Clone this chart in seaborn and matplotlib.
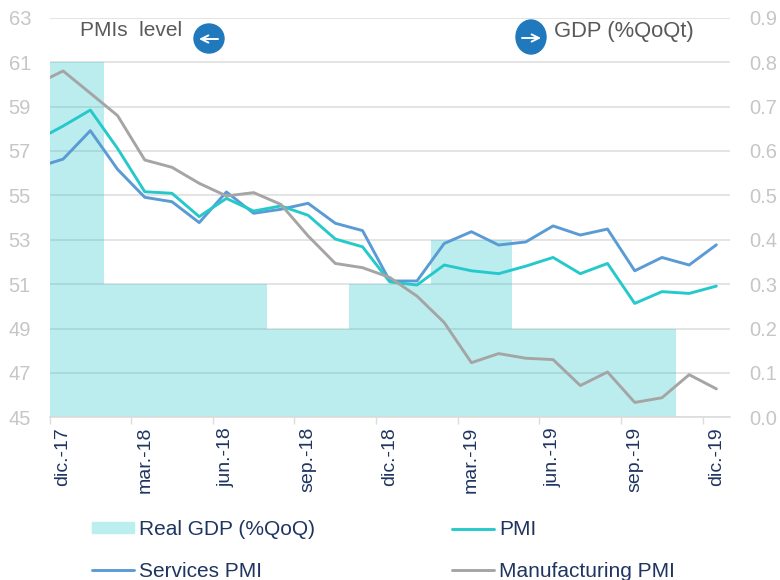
import numpy as np
import pandas as pd
import matplotlib
matplotlib.use("Agg")
import matplotlib.pyplot as plt
from matplotlib.patches import Ellipse, Patch
import seaborn as sns

# months, nov.-17 sits just off the left edge so the lines run into the axis
months = ["nov.-17", "dic.-17", "ene.-18", "feb.-18", "mar.-18", "abr.-18", "may.-18", "jun.-18", "jul.-18",
          "ago.-18", "sep.-18", "oct.-18", "nov.-18", "dic.-18", "ene.-19", "feb.-19", "mar.-19",
          "abr.-19", "may.-19", "jun.-19", "jul.-19", "ago.-19", "sep.-19", "oct.-19", "nov.-19", "dic.-19"]

services = [56.25, 56.63, 57.91, 56.17, 54.91, 54.71, 53.77, 55.15, 54.19, 54.37, 54.64, 53.74, 53.41,
            51.14, 51.14, 52.83, 53.36, 52.76, 52.90, 53.62, 53.21, 53.48, 51.60, 52.20, 51.86, 52.77]
pmi = [57.46, 58.12, 58.84, 57.11, 55.16, 55.09, 54.04, 54.86, 54.29, 54.52, 54.10, 53.03, 52.68,
       51.10, 50.96, 51.86, 51.60, 51.47, 51.81, 52.20, 51.47, 51.93, 50.13, 50.66, 50.58, 50.91]
manufacturing = [60.00, 60.60, 59.60, 58.59, 56.59, 56.26, 55.54, 54.97, 55.12, 54.59, 53.17, 51.93, 51.74,
                 51.30, 50.46, 49.27, 47.46, 47.87, 47.66, 47.60, 46.43, 47.04, 45.67, 45.88, 46.92, 46.28]
gdp = [0.8, 0.8, 0.3, 0.3, 0.3, 0.3, 0.3, 0.3, 0.2, 0.2, 0.2, 0.3, 0.3,
       0.3, 0.4, 0.4, 0.4, 0.2, 0.2, 0.2, 0.2, 0.2, 0.2, 0.0, 0.0]

left_ticks = [45, 47, 49, 51, 53, 55, 57, 59, 61, 63]
right_ticks = [0.0, 0.1, 0.2, 0.3, 0.4, 0.5, 0.6, 0.7, 0.8, 0.9]
x_labels = ["dic.-17", "mar.-18", "jun.-18", "sep.-18", "dic.-18", "mar.-19", "jun.-19", "sep.-19", "dic.-19"]

W, H = 780, 580
GRID = "#DCDCDC"
TICK = "#C6C6C6"
NAVY = "#1F3560"
NOTE = "#595959"

sns.set_theme(style="white")
plt.rcParams["font.family"] = ["Liberation Sans", "DejaVu Sans"]

fig = plt.figure(figsize=(W / 100, H / 100), dpi=100)
ax = fig.add_axes([49.5 / W, 1 - 417.3 / H, 680.5 / W, 399.6 / H])
ax2 = ax.twinx()
ax.set_zorder(2)
ax2.set_zorder(1)
ax.patch.set_visible(False)

# bars on the right axis, see-through so the grid shows faintly
bars = pd.DataFrame({"month": months[1:], "gdp": gdp})
sns.barplot(data=bars, x="month", y="gdp", ax=ax2, width=1, color="#27C6C9", alpha=0.31,
            saturation=1, linewidth=0, legend=False)

lines = pd.DataFrame({"pos": np.arange(-1, 25), "services": services, "pmi": pmi, "manufacturing": manufacturing})
sns.lineplot(data=lines, x="pos", y="services", ax=ax, color="#5B9BD5", lw=2.1, label="Services PMI")
sns.lineplot(data=lines, x="pos", y="pmi", ax=ax, color="#26C9CB", lw=2.1, label="PMI")
sns.lineplot(data=lines, x="pos", y="manufacturing", ax=ax, color="#A5A5A5", lw=2.1, label="Manufacturing PMI")

ax.set_xlim(-0.5, 24.5)
ax.set_ylim(45, 63)
ax2.set_ylim(0, 0.9)
ax.set_yticks(left_ticks)
ax2.set_yticks(right_ticks, [f"{v:.1f}" for v in right_ticks])
ax.set_xlabel("")
ax.set_ylabel("")
ax2.set_xlabel("")
ax2.set_ylabel("")

ax2.grid(axis="y", color=GRID, lw=1.1)
ax2.set_axisbelow(True)
ax.tick_params(axis="y", length=0, labelsize=14.5, labelcolor=TICK, pad=29.5)
for t in ax.get_yticklabels():
    t.set_ha("left")
ax2.tick_params(axis="y", length=0, labelsize=14.5, labelcolor=TICK, pad=14)

# tick marks between quarters, labels on the month itself
ax.set_xticks(np.arange(-0.5, 24, 3), [""] * 9)
ax.set_xticks(np.arange(0, 25, 3), x_labels, minor=True)
ax.tick_params(axis="x", which="major", length=5, width=1, color=GRID, bottom=True)
ax.tick_params(axis="x", which="minor", length=0, labelsize=14, labelcolor=NAVY, pad=7, labelrotation=90)
ax2.tick_params(axis="x", length=0, labelbottom=False)

for s in ["top", "left", "right"]:
    ax.spines[s].set_visible(False)
    ax2.spines[s].set_visible(False)
ax2.spines["bottom"].set_visible(False)
ax.spines["bottom"].set_color(GRID)
ax.spines["bottom"].set_linewidth(1.2)

# axis notes with the round arrow badges
fig.text(80 / W, 1 - 30 / H, "PMIs  level", color=NOTE, fontsize=15, va="center", ha="left")
fig.text(554 / W, 1 - 31 / H, "GDP (%QoQt)", color=NOTE, fontsize=15.8, va="center", ha="left")
fig.add_artist(Ellipse((209 / W, 1 - 38.5 / H), 30 / W, 29 / H, color="#2079BD", transform=fig.transFigure))
fig.add_artist(Ellipse((531 / W, 1 - 37 / H), 30 / W, 34 / H, color="#2079BD", transform=fig.transFigure))
arrow = dict(arrowstyle="->", color="white", lw=1.4, mutation_scale=13, shrinkA=0, shrinkB=0)
for x0, x1, y in [(218, 199, 39), (522, 541, 38)]:
    ann = ax.annotate("", xy=(x1 / W, 1 - y / H), xytext=(x0 / W, 1 - y / H),
                      xycoords="figure fraction", textcoords="figure fraction", arrowprops=arrow)
    ann.set_zorder(10)
    ann.set_annotation_clip(False)

# legend, two columns
h = {t.get_label(): t for t in ax.get_lines()}
order = [Patch(color="#BAEEEF", label="Real GDP (%QoQ)"), h["Services PMI"], h["PMI"], h["Manufacturing PMI"]]
ax.get_legend().remove()
fig.legend(handles=order, ncols=2, frameon=False, fontsize=15, labelcolor=NAVY,
           loc="upper left", bbox_to_anchor=(92 / W, 1 - 520 / H), handlelength=2.0, handleheight=0.43,
           handletextpad=0.25, labelspacing=1.1, columnspacing=6.6, borderpad=0, borderaxespad=0)

fig.savefig("out.png", dpi=100)
